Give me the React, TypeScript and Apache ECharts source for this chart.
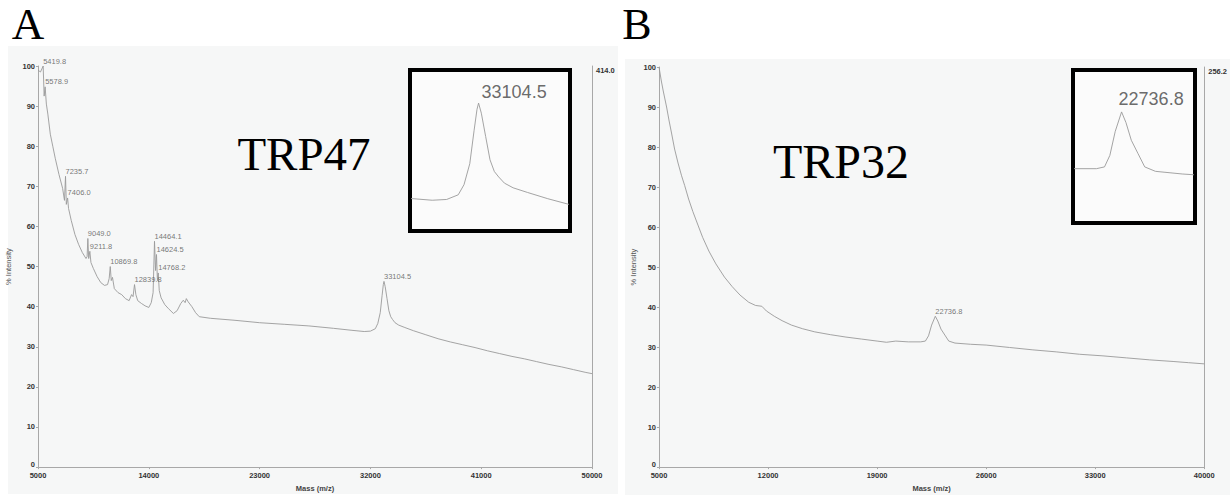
import React, { useEffect, useRef } from "react";
import * as echarts from "echarts";

// ---------- Panel A (TRP47) ----------
const baseMassA = [5000, 5200, 5500, 5680, 5800, 6000, 6200, 6400, 6700, 7000, 7150, 7300, 7480, 7700, 8000, 8300, 8600, 8900, 8990, 9120, 9300, 9500, 9800, 10100, 10400, 10650, 10780, 10950, 11050, 11200, 11500, 11800, 12100, 12400, 12600, 12720, 12950, 13100, 13400, 13700, 14000, 14200, 14350, 14550, 14700, 14850, 15000, 15300, 15600, 16000, 16300, 16600, 16800, 16950, 17050, 17200, 17500, 17800, 18100, 19000, 21000, 23000, 25000, 27000, 29000, 30500, 31500, 32000, 32400, 32600, 32800, 32950, 33050, 33200, 33350, 33500, 33650, 33800, 34000, 34300, 34800, 35500, 36500, 37500, 38500, 39500, 40500, 41500, 42500, 43500, 44500, 45500, 46500, 47500, 48500, 49500, 50000];
const baseIntA = [99, 98.5, 92.5, 90.5, 88, 83, 80, 77, 73, 69.5, 66.5, 65.5, 64.5, 61.5, 58, 55.5, 53.5, 52, 52.5, 52, 51, 49.5, 47.5, 46, 45.3, 45.5, 47, 46.5, 47.3, 44.5, 43.5, 43, 42, 41.5, 43, 42.5, 43, 41.5, 40.8, 40.2, 39.8, 41, 43.5, 49, 46.5, 44, 42.2, 40.5, 39.5, 38.3, 39, 40.8, 41.6, 41, 42, 41.2, 40, 38.5, 37.5, 37.1, 36.6, 36, 35.6, 35.2, 34.6, 34.1, 33.8, 33.9, 34.5, 35.8, 38.5, 42.8, 45.5, 45, 42, 39, 37.5, 36.8, 36, 35.4, 34.8, 34, 33, 32, 31.2, 30.5, 29.8, 29, 28.3, 27.6, 27, 26.3, 25.6, 25, 24.3, 23.6, 23.3];
const peakMassA = [5419.8, 5578.9, 7235.7, 7406.0, 9049.0, 9211.8, 10869.8, 12839.8, 14464.1, 14624.5, 14768.2, 33104.5];
const peakIntA = [100, 94.8, 72.5, 67.1, 57.0, 53.8, 50.0, 45.5, 56.3, 53.0, 48.4, 46.3];
const insetPeakA = [33104.5];
const xTicksA = [5000, 14000, 23000, 32000, 41000, 50000];
const absMaxA = 414.0;

// ---------- Panel B (TRP32) ----------
const baseMassB = [5000, 5150, 5272, 5487, 5650, 5804, 6000, 6222, 6450, 6646, 6900, 7170, 7500, 7804, 8200, 8650, 9200, 9700, 10200, 10760, 11200, 11600, 11900, 12400, 12900, 13500, 14200, 15000, 16000, 17000, 18000, 19000, 19600, 20200, 21000, 21800, 22100, 22300, 22500, 22900, 23100, 23350, 23600, 24000, 25000, 26000, 27500, 29000, 30500, 32000, 33500, 35000, 36500, 38000, 39000, 40000];
const baseIntB = [100, 96.5, 94, 90, 86.5, 83.5, 79.5, 76, 72.8, 70.4, 67, 63.9, 60.5, 57.4, 54, 50.8, 47.5, 45.1, 43, 41.2, 40.4, 40.2, 39, 37.7, 36.6, 35.5, 34.6, 33.8, 33.1, 32.5, 32, 31.5, 31.2, 31.5, 31.3, 31.3, 31.5, 32.8, 35.5, 36.5, 34.5, 33, 31.5, 31, 30.7, 30.5, 29.9, 29.3, 28.8, 28.2, 27.8, 27.3, 26.8, 26.4, 26.1, 25.8];
const peakMassB = [22736.8];
const peakIntB = [37.7];
const xTicksB = [5000, 12000, 19000, 26000, 33000, 40000];
const absMaxB = 256.2;

function mergeCurve(bm: number[], bi: number[], pm: number[], pi: number[]) {
  const pts = bm.map((m, i) => [m, bi[i]]).concat(pm.map((m, i) => [m, pi[i]]));
  pts.sort((a, b) => a[0] - b[0]);
  return pts;
}

const SANS = "'Liberation Sans', Arial, sans-serif";
const SERIF = "'Liberation Serif', 'Times New Roman', serif";
const TRACE = "#9a9a9a";
const AXIS = "#a8a8a8";

function mainAxes(gridIndex: number, ticks: number[], absMax: number, yGap: number) {
  const x = {
    type: "value",
    gridIndex,
    min: ticks[0],
    max: ticks[ticks.length - 1],
    name: "Mass (m/z)",
    nameLocation: "middle",
    nameGap: 16,
    nameTextStyle: { fontFamily: SANS, fontSize: 7.5, fontWeight: "bold", color: "#444" },
    axisLine: { show: true, lineStyle: { color: AXIS, width: 1 } },
    axisTick: { show: true, length: 2, customValues: ticks, lineStyle: { color: AXIS } },
    axisLabel: {
      customValues: ticks,
      margin: 4,
      fontFamily: SANS,
      fontSize: 7.5,
      fontWeight: "bold",
      color: "#333",
      formatter: (v: number) => String(v),
    },
    splitLine: { show: false },
  };
  const yL = {
    type: "value",
    gridIndex,
    min: 0,
    max: 100,
    interval: 10,
    position: "left",
    name: "% Intensity",
    nameLocation: "middle",
    nameGap: yGap,
    nameTextStyle: { fontFamily: SANS, fontSize: 7.5, color: "#555" },
    axisLine: { show: true, lineStyle: { color: AXIS, width: 1 } },
    axisTick: { show: true, length: 2, lineStyle: { color: AXIS } },
    axisLabel: {
      margin: 3,
      fontFamily: SANS,
      fontSize: 7.5,
      fontWeight: "bold",
      color: "#333",
      formatter: (v: number) => (v === 0 ? "{z|0}" : String(v)),
      rich: { z: { fontFamily: SANS, fontSize: 7.5, fontWeight: "bold", color: "#333", padding: [0, 0, 6, 0] } },
    },
    splitLine: { show: false },
  };
  const yR = {
    type: "value",
    gridIndex,
    min: 0,
    max: absMax,
    interval: absMax,
    position: "right",
    axisLine: { show: true, lineStyle: { color: AXIS, width: 1 } },
    axisTick: { show: false },
    axisLabel: {
      showMinLabel: false,
      margin: 4,
      fontFamily: SANS,
      fontSize: 7.5,
      fontWeight: "bold",
      color: "#333",
      verticalAlign: "top",
      formatter: (v: number) => (v > 0 ? v.toFixed(1) : ""),
    },
    splitLine: { show: false },
  };
  return { x, yL, yR };
}

export default function App() {
  const ref = useRef<HTMLDivElement>(null);
  useEffect(() => {
    if (!ref.current) return;
    const chart = echarts.init(ref.current, undefined, { renderer: "svg" });
    const curveA = mergeCurve(baseMassA, baseIntA, peakMassA, peakIntA);
    const curveB = mergeCurve(baseMassB, baseIntB, peakMassB, peakIntB);
    const a = mainAxes(0, xTicksA, absMaxA, 26);
    const b = mainAxes(1, xTicksB, absMaxB, 22);

    const peakLabel = (offset: number[], size: number, color: string) => ({
      show: true,
      position: offset,
      align: "left",
      verticalAlign: "middle",
      fontFamily: SANS,
      fontSize: size,
      color,
      formatter: (p: any) => Number(p.value[0]).toFixed(1),
    });

    const option: any = {
      animation: false,
      backgroundColor: "#ffffff",
      grid: [
        { left: 38, top: 66, width: 554, height: 402 },
        { left: 659, top: 67, width: 553, height: 406 },
        { left: 412, top: 72, width: 156, height: 157 },
        { left: 1075, top: 72, width: 118, height: 149 },
      ],
      xAxis: [
        a.x,
        b.x,
        { type: "value", gridIndex: 2, min: 30800, max: 36200, show: false },
        { type: "value", gridIndex: 3, min: 21000, max: 25400, show: false },
      ],
      yAxis: [
        a.yL,
        a.yR,
        b.yL,
        b.yR,
        { type: "value", gridIndex: 2, min: 30.1, max: 50.3, show: false },
        { type: "value", gridIndex: 3, min: 25.4, max: 42.2, show: false },
      ],
      graphic: [
        { type: "rect", z: -10, shape: { x: 8, y: 46, width: 610, height: 448 }, style: { fill: "#f6f7f7" } },
        { type: "rect", z: -10, shape: { x: 625, y: 59, width: 605, height: 436 }, style: { fill: "#f6f7f7" } },
        { type: "rect", z: 0, shape: { x: 410, y: 70, width: 160, height: 161 }, style: { fill: "#fbfbfb", stroke: "#000", lineWidth: 4 } },
        { type: "rect", z: 0, shape: { x: 1073, y: 70, width: 122, height: 153 }, style: { fill: "#fbfbfb", stroke: "#000", lineWidth: 4 } },
        { type: "text", z: 10, x: 28, y: 24, style: { text: "A", fontFamily: SERIF, fontSize: 45, fill: "#000", align: "center", verticalAlign: "middle" } },
        { type: "text", z: 10, x: 637, y: 24, style: { text: "B", fontFamily: SERIF, fontSize: 44, fill: "#000", align: "center", verticalAlign: "middle" } },
        { type: "text", z: 10, x: 304, y: 154, style: { text: "TRP47", fontFamily: SERIF, fontSize: 47, fill: "#000", align: "center", verticalAlign: "middle" } },
        { type: "text", z: 10, x: 841, y: 161, style: { text: "TRP32", fontFamily: SERIF, fontSize: 48, fill: "#000", align: "center", verticalAlign: "middle" } },
      ],
      series: [
        {
          type: "line", xAxisIndex: 0, yAxisIndex: 0, data: curveA, showSymbol: false, symbol: "none",
          lineStyle: { color: TRACE, width: 0.9 }, clip: true, z: 3,
        },
        {
          type: "line", xAxisIndex: 1, yAxisIndex: 2, data: curveB, showSymbol: false, symbol: "none",
          lineStyle: { color: TRACE, width: 0.9 }, clip: true, z: 3,
        },
        {
          type: "line", xAxisIndex: 2, yAxisIndex: 4, data: curveA, showSymbol: false, symbol: "none",
          lineStyle: { color: TRACE, width: 0.9 }, clip: true, z: 3,
        },
        {
          type: "line", xAxisIndex: 3, yAxisIndex: 5, data: curveB, showSymbol: false, symbol: "none",
          lineStyle: { color: TRACE, width: 0.9 }, clip: true, z: 3,
        },
        {
          type: "scatter", xAxisIndex: 0, yAxisIndex: 0, symbolSize: 0, clip: false, z: 4,
          data: peakMassA.map((m, i) => [m, peakIntA[i]]),
          label: peakLabel([0, -5], 7.5, "#555"),
        },
        {
          type: "scatter", xAxisIndex: 1, yAxisIndex: 2, symbolSize: 0, clip: false, z: 4,
          data: peakMassB.map((m, i) => [m, peakIntB[i]]),
          label: peakLabel([0, -5], 7.5, "#555"),
        },
        {
          type: "scatter", xAxisIndex: 2, yAxisIndex: 4, symbolSize: 0, clip: false, z: 4,
          data: insetPeakA.map((m) => [m, peakIntA[peakMassA.indexOf(m)]]),
          label: peakLabel([3, -11], 18, "#444"),
        },
        {
          type: "scatter", xAxisIndex: 3, yAxisIndex: 5, symbolSize: 0, clip: false, z: 4,
          data: peakMassB.map((m, i) => [m, peakIntB[i]]),
          label: peakLabel([-3, -13], 18, "#444"),
        },
      ],
    };
    chart.setOption(option);
    return () => chart.dispose();
  }, []);
  return (
    <div
      ref={ref}
      style={{ position: "fixed", left: 0, top: 0, width: 1230, height: 497, background: "#fff" }}
    />
  );
}
